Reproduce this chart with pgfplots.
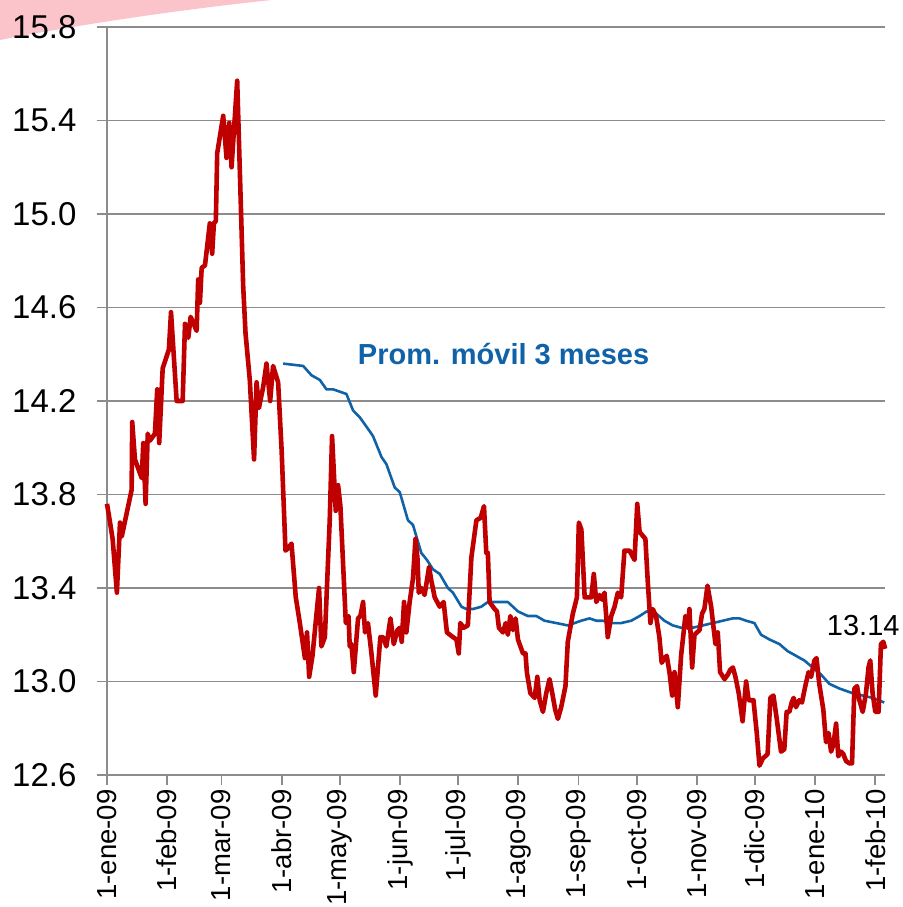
\documentclass[border=0pt]{standalone}
\usepackage{pgfplots}
\pgfplotsset{compat=1.18}
\usepackage{fontspec}
\setmainfont{Liberation Sans}
\definecolor{redline}{RGB}{192,0,0}
\definecolor{blueline}{RGB}{16,98,168}
\definecolor{gridgray}{RGB}{140,140,140}
\definecolor{pinkswoosh}{RGB}{250,196,202}
\begin{document}
\begin{tikzpicture}
\fill[pinkswoosh] (-107pt,775pt) -- (165pt,775pt) .. controls (60pt,764pt) and (-40pt,748pt) .. (-107pt,735pt) -- cycle;
\begin{axis}[
  scale only axis, width=778pt, height=748pt,
  xmin=0, xmax=401, ymin=12.6, ymax=15.8,
  axis x line*=bottom, axis y line*=left,
  axis line style={gridgray, line width=1.8pt, -},
  ytick={12.6,13,13.4,13.8,14.2,14.6,15,15.4,15.8},
  xtick={0,31,59,90,120,151,181,212,243,273,304,334,365,396},
  xticklabels={1-ene-09,1-feb-09,1-mar-09,1-abr-09,1-may-09,1-jun-09,1-jul-09,1-ago-09,1-sep-09,1-oct-09,1-nov-09,1-dic-09,1-ene-10,1-feb-10},
  ymajorgrids, grid style={gridgray, line width=1.8pt},
  tick align=outside, major tick length=10pt,
  tick style={gridgray, line width=1.8pt},
  /pgf/number format/assume math mode=true,
  yticklabel={\pgfmathprintnumber[fixed,fixed zerofill,precision=1]{\tick}},
  yticklabel style={font=\fontsize{33}{33}\selectfont, black, xshift=-17pt},
  xticklabel style={rotate=90, anchor=east, font=\fontsize{27.5}{27.5}\selectfont, black, xshift=-1pt},
  clip=false,
]
\addplot[blueline, line width=2.6pt, line join=round] coordinates {
(90.8,14.36)(101.1,14.35)(105.4,14.31)(109.7,14.29)(113.1,14.25)(116.5,14.25)(123.4,14.23)(126.8,14.16)(130.3,14.13)(134.6,14.08)(137.1,14.05)(141.5,13.96)(144.0,13.93)(148.3,13.83)(150.9,13.81)(155.1,13.69)(157.7,13.67)(162.0,13.55)(164.9,13.52)(168.0,13.48)(171.5,13.46)(175.7,13.40)(178.3,13.38)(182.7,13.32)(185.2,13.31)(188.6,13.31)(192.9,13.32)(196.3,13.34)(200.7,13.34)(206.6,13.34)(211.8,13.30)(216.9,13.28)(221.3,13.28)(225.5,13.26)(231.6,13.25)(237.5,13.24)(241.0,13.25)(244.4,13.26)(248.7,13.27)(252.2,13.26)(255.6,13.26)(259.9,13.25)(265.0,13.25)(270.2,13.26)(274.5,13.28)(278.2,13.30)(283.1,13.29)(287.3,13.26)(291.6,13.24)(295.9,13.23)(301.9,13.23)(307.1,13.24)(312.2,13.25)(317.4,13.26)(322.5,13.27)(326.0,13.27)(329.4,13.26)(333.7,13.25)(337.1,13.20)(341.4,13.18)(346.6,13.16)(350.8,13.13)(355.1,13.11)(359.4,13.09)(363.7,13.06)(368.0,13.03)(372.3,12.99)(377.5,12.97)(384.3,12.95)(389.5,12.94)(394.6,12.93)(400.6,12.91)
};
\addplot[redline, line width=4.6pt, line join=round] coordinates {
(0,13.76)(1.0,13.71)(2.9,13.61)(5.1,13.38)(6.7,13.68)(7.6,13.62)(12.7,13.82)(13.0,14.11)(14.4,13.95)(17.9,13.87)(18.7,14.02)(19.9,13.76)(21.0,14.06)(22.1,14.03)(24.7,14.06)(25.9,14.25)(26.9,14.02)(28.7,14.34)(31.9,14.42)(33.0,14.58)(35.9,14.20)(39.0,14.20)(40.2,14.53)(41.9,14.47)(43.1,14.56)(46.2,14.50)(47.0,14.72)(47.9,14.62)(48.8,14.77)(50.5,14.78)(53.0,14.96)(54.2,14.83)(55.1,14.96)(56.1,14.97)(56.8,15.26)(59.9,15.42)(61.6,15.24)(63.0,15.39)(64.2,15.20)(67.1,15.57)(68.8,15.09)(70.2,14.69)(71.4,14.49)(73.6,14.29)(75.8,13.95)(77.1,14.28)(78.3,14.17)(80.5,14.26)(82.2,14.36)(84.1,14.20)(85.6,14.35)(88.2,14.28)(90.0,13.99)(92.0,13.56)(93.4,13.57)(95.1,13.59)(97.3,13.36)(99.4,13.25)(102.0,13.10)(103.1,13.21)(104.2,13.02)(105.9,13.11)(108.0,13.29)(109.3,13.40)(110.5,13.15)(112.3,13.19)(114.8,13.69)(116.0,14.05)(117.9,13.73)(119.1,13.84)(120.3,13.75)(123.1,13.25)(124.5,13.28)(125.1,13.15)(126.0,13.16)(127.2,13.04)(129.4,13.27)(130.6,13.28)(132.0,13.34)(133.0,13.21)(134.5,13.25)(136.3,13.12)(138.5,12.94)(140.9,13.19)(142.3,13.19)(144.0,13.15)(146.1,13.27)(147.8,13.16)(149.7,13.22)(150.9,13.23)(151.9,13.17)(153.1,13.34)(154.3,13.21)(156.0,13.34)(157.7,13.44)(159.0,13.61)(160.0,13.53)(160.7,13.38)(162.1,13.40)(163.7,13.37)(166.0,13.49)(167.2,13.43)(168.9,13.36)(171.5,13.32)(173.5,13.34)(175.2,13.21)(178.3,13.19)(180.1,13.18)(181.3,13.12)(182.1,13.25)(183.8,13.23)(186.0,13.24)(187.8,13.53)(190.4,13.69)(192.6,13.70)(194.3,13.75)(195.5,13.55)(196.3,13.55)(197.2,13.34)(199.8,13.31)(201.0,13.30)(202.0,13.23)(204.1,13.21)(205.5,13.25)(206.6,13.20)(207.9,13.28)(209.2,13.22)(210.6,13.27)(211.8,13.18)(214.4,13.12)(215.7,13.12)(216.4,13.04)(218.2,12.95)(220.4,12.93)(221.8,13.02)(223.0,12.92)(224.7,12.87)(226.4,12.95)(228.1,13.01)(229.5,12.95)(231.0,12.88)(232.4,12.84)(234.1,12.89)(236.3,12.98)(237.5,13.17)(240.1,13.29)(242.2,13.36)(243.2,13.68)(244.5,13.65)(246.2,13.36)(249.6,13.36)(250.9,13.46)(252.2,13.34)(253.9,13.37)(255.2,13.35)(256.4,13.38)(258.1,13.19)(259.9,13.28)(261.6,13.32)(263.3,13.38)(265.0,13.36)(266.7,13.56)(269.3,13.56)(271.9,13.52)(273.3,13.76)(274.5,13.64)(277.5,13.61)(278.7,13.43)(280.1,13.25)(281.3,13.31)(283.0,13.28)(284.7,13.19)(285.9,13.08)(287.3,13.10)(288.5,13.11)(289.9,13.04)(291.3,12.94)(292.5,13.04)(294.2,12.89)(295.9,13.11)(298.1,13.28)(299.3,13.23)(300.2,13.31)(301.6,13.06)(302.8,13.20)(305.4,13.22)(306.7,13.29)(307.9,13.31)(309.5,13.41)(311.4,13.32)(313.6,13.16)(314.8,13.21)(316.0,13.04)(318.3,13.01)(320.0,13.03)(321.2,13.05)(322.6,13.06)(323.9,13.02)(325.6,12.95)(327.6,12.83)(329.4,13.00)(330.7,12.92)(333.2,12.92)(334.9,12.78)(336.3,12.64)(338.0,12.67)(340.5,12.69)(341.9,12.93)(343.5,12.94)(345.2,12.84)(347.4,12.70)(349.1,12.71)(350.3,12.87)(351.7,12.87)(352.9,12.91)(353.9,12.93)(355.1,12.89)(356.8,12.92)(358.2,12.91)(359.9,12.98)(361.6,13.04)(362.9,13.02)(364.6,13.09)(365.7,13.10)(367.1,12.99)(369.2,12.88)(370.6,12.74)(371.9,12.78)(373.2,12.70)(374.4,12.73)(375.8,12.82)(376.9,12.68)(378.3,12.70)(379.5,12.69)(380.9,12.66)(382.6,12.65)(384.0,12.65)(385.2,12.97)(386.6,12.98)(387.8,12.92)(389.5,12.87)(391.2,12.95)(392.5,13.06)(393.4,13.09)(394.6,12.95)(396.0,12.87)(397.7,12.87)(398.9,13.16)(400.1,13.17)(401.1,13.14)
};
\node[blueline, font=\bfseries\fontsize{29}{29}\selectfont] at (axis cs:204.4,14.40) {Prom. móvil 3 meses};
\node[black, font=\fontsize{29}{29}\selectfont] at (axis cs:389.8,13.24) {13.14};
\end{axis}
\pgfresetboundingbox
\path (-107pt,-132pt) rectangle (795pt,775pt);
\end{tikzpicture}
\end{document}
